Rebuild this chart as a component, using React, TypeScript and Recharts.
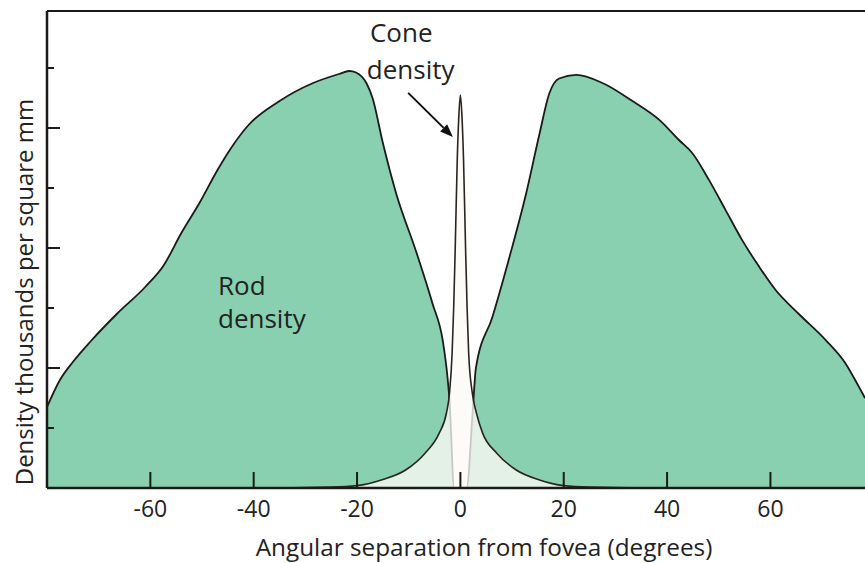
import React from 'react';
import {
  ComposedChart,
  Area,
  XAxis,
  YAxis,
  ReferenceLine,
  ReferenceDot,
} from 'recharts';

// rod density, thousands per mm^2
const ROD_DEG = [
  -80, -77.5, -75, -71.5, -66.5, -61, -57.5, -54, -50.5, -47, -44.5, -41, -35, -28.5, -23.5,
  -21.5, -20.2, -18.2, -17, -15, -12.4, -8.6, -5.4, -3.4, -2.5, -2.1, -1.2, 0, 1.2, 2.4, 3,
  6.2, 9.5, 12.7, 15.3, 17.2, 19.1, 22.4, 27.5, 33.3, 38.5, 42.3, 44.9, 48.1, 51.3, 54.5, 57.8,
  61, 65.5, 70.7, 74.5, 77.1, 78.3,
];
const ROD_VAL = [
  27, 36, 42, 49, 58, 67, 74, 85, 95, 106, 113, 121, 129, 135, 138,
  139, 138.5, 135, 130, 115, 98, 79, 61.5, 49, 37, 29, 0, 0, 0, 26, 40,
  57, 77, 98, 118, 131.5, 136.5, 137.7, 135, 129, 122.7, 116, 111.6, 102.7, 92.7, 82.7, 73.8,
  66, 58, 49.3, 41.6, 33.8, 30,
];

// cone density
const CONE_DEG = [
  -80, -40, -25, -20, -15.3, -10.6, -6.8, -4.1, -2.7, -2.1, -1.6, -1.3, -1, -0.6, -0.3, 0,
  0.3, 0.6, 1, 1.3, 1.6, 2.3, 3.1, 4.3, 7, 10.8, 15.3, 20, 25, 40, 78.3,
];
const CONE_VAL = [
  0, 0, 0.3, 0.8, 2.7, 6, 11.7, 18.3, 25, 31.7, 45, 60, 80, 110, 124, 131,
  124, 110, 80, 60, 45, 31.7, 25, 18.3, 11.7, 6, 2.7, 0.8, 0.3, 0, 0,
];

const X_TICKS = [-60, -40, -20, 0, 20, 40, 60];
const Y_TICKS = [20, 40, 60, 80, 100, 120, 140];
const X_DOMAIN = [-80, 78.3];
const Y_MAX = 159;

const FONT = '"Open Sans", sans-serif';
const INK = '#1c1a17';
const TEXT = '#222';

const rodData = ROD_DEG.map((d, i) => ({ deg: d, rod: ROD_VAL[i] }));
const coneData = CONE_DEG.map((d, i) => ({ deg: d, cone: CONE_VAL[i] }));

function XTick(props: any) {
  const { x, y, payload } = props;
  return (
    <g>
      <line x1={x} x2={x} y1={y - 16} y2={y} stroke={INK} strokeWidth={2} />
      <text x={x} y={y + 29} textAnchor="middle" fontSize={23} fontFamily={FONT} fill={TEXT}>
        {payload.value}
      </text>
    </g>
  );
}

function YTick(props: any) {
  const { x, y, payload } = props;
  const len = payload.value % 40 === 0 ? 13 : 7;
  return <line x1={x} x2={x + len} y1={y} y2={y} stroke={INK} strokeWidth={2} />;
}

function Arrow(props: any) {
  const { x1, y1, x2, y2 } = props;
  const a = Math.atan2(y2 - y1, x2 - x1);
  const L = 13;
  const W = 5;
  const bx = x2 - L * Math.cos(a);
  const by = y2 - L * Math.sin(a);
  const px = -Math.sin(a) * W;
  const py = Math.cos(a) * W;
  return (
    <g>
      <line x1={x1} y1={y1} x2={bx} y2={by} stroke="#111" strokeWidth={2} />
      <polygon points={`${x2},${y2} ${bx + px},${by + py} ${bx - px},${by - py}`} fill="#111" />
    </g>
  );
}

const note = (txt: string) => (p: any) => (
  <text x={p.cx} y={p.cy} fontSize={26} fontFamily={FONT} fill={TEXT}>
    {txt}
  </text>
);

export default function App() {
  return (
    <div style={{ width: 865, height: 563, background: '#fff' }}>
      <style>{`html, body { margin: 0; padding: 0; overflow: hidden; }`}</style>
      <ComposedChart width={865} height={563} margin={{ top: 11, right: 0, bottom: 0, left: 0 }}>
        <Area
          data={rodData}
          dataKey="rod"
          type="monotone"
          fill="#89d0b0"
          fillOpacity={1}
          stroke="#1a1a1a"
          strokeWidth={1.8}
          isAnimationActive={false}
        />
        <Area
          data={coneData}
          dataKey="cone"
          type="monotone"
          fill="#fdfaf6"
          fillOpacity={0.78}
          stroke="#2a2420"
          strokeWidth={1.6}
          isAnimationActive={false}
        />
        <ReferenceLine y={Y_MAX} stroke={INK} strokeWidth={2} />
        <ReferenceLine
          segment={[
            { x: -10.1, y: 131.7 },
            { x: -1.45, y: 117 },
          ]}
          shape={Arrow}
        />
        <ReferenceDot x={-17.5} y={148.7} shape={note('Cone')} />
        <ReferenceDot x={-18.1} y={136.5} shape={note('density')} />
        <ReferenceDot x={-46.9} y={64.3} shape={note('Rod')} />
        <ReferenceDot x={-46.9} y={53.3} shape={note('density')} />
        <XAxis
          type="number"
          dataKey="deg"
          domain={X_DOMAIN}
          allowDataOverflow
          ticks={X_TICKS}
          height={75}
          tickSize={0}
          tickMargin={0}
          tickLine={false}
          tick={<XTick />}
          axisLine={{ stroke: INK, strokeWidth: 2.5 }}
          label={{
            content: (p: any) => {
              const vb = p.viewBox;
              return (
                <text
                  x={vb.x + vb.width / 2 + 28}
                  y={vb.y + 68}
                  textAnchor="middle"
                  fontSize={24.3}
                  fontFamily={FONT}
                  fill={TEXT}
                >
                  Angular separation from fovea (degrees)
                </text>
              );
            },
          }}
        />
        <YAxis
          type="number"
          domain={[0, Y_MAX]}
          allowDataOverflow
          ticks={Y_TICKS}
          width={47}
          tickSize={0}
          tickMargin={0}
          tickLine={false}
          tick={<YTick />}
          axisLine={{ stroke: INK, strokeWidth: 2.5 }}
          label={{
            content: () => (
              <text
                x={33}
                y={292}
                transform="rotate(-90, 33, 292)"
                textAnchor="middle"
                fontSize={24}
                fontFamily={FONT}
                fill={TEXT}
              >
                Density thousands per square mm
              </text>
            ),
          }}
        />
      </ComposedChart>
    </div>
  );
}
